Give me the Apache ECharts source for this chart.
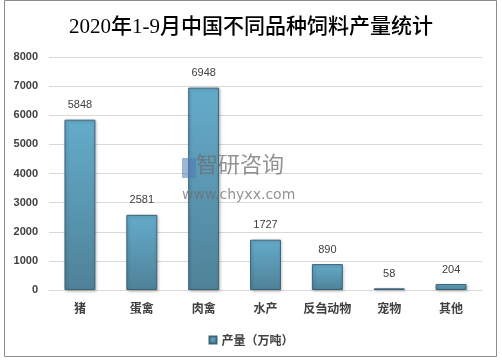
<!DOCTYPE html>
<html><head><meta charset="utf-8">
<script src="https://cdn.jsdelivr.net/npm/echarts@6/dist/echarts.min.js"></script>
<style>html,body{margin:0;padding:0;background:#fff}#c{width:502px;height:361px}</style>
</head><body><div id="c"></div>
<script>
const categories = ['猪','蛋禽','肉禽','水产','反刍动物','宠物','其他'];
const values = [5848, 2581, 6948, 1727, 890, 58, 204];
const seriesName = '产量（万吨）';
const titleText = '2020年1-9月中国不同品种饲料产量统计';

const chart = echarts.init(document.getElementById('c'), null, {renderer:'canvas'});
chart.setOption({
  animation: false,
  backgroundColor: '#fff',
  title: {
    text: titleText, left: 'center', top: 12,
    textStyle: {fontFamily: '"Liberation Serif","Noto Sans CJK SC",serif', fontSize: 21, fontWeight: 500, color: '#000'}
  },
  graphic: [
    {type:'rect', shape:{x:4.5,y:0.5,width:492,height:356}, style:{fill:'none', stroke:'#8c8c8c', lineWidth:1}, z:-1},
    {type:'text', left:196, top:153, style:{text:'智研咨询', fill:'rgba(110,110,110,0.75)', font:'22px "Noto Sans CJK SC"'}, z:100},
    {type:'text', left:182, top:188, style:{text:'www.chyxx.com', fill:'rgba(110,110,110,0.75)', font:'14px "DejaVu Sans"'}, z:100},
    {type:'rect', shape:{x:182,y:158,width:14,height:20}, style:{fill:'rgba(80,120,180,0.55)'}, z:100}
  ],
  legend: {
    bottom: 10, left: 'center', itemWidth: 7, itemHeight: 7, itemGap: 4,
    icon: 'rect',
    textStyle: {fontSize: 12, fontWeight:'bold', color:'#404040', fontFamily:'"Noto Sans CJK SC"'},
    data: [seriesName]
  },
  grid: {left: 49, right: 20, top: 57, bottom: 71},
  xAxis: {
    type: 'category', data: categories,
    axisLine: {lineStyle:{color:'#d9d9d9'}}, axisTick:{show:false},
    axisLabel: {interval: 0, color:'#404040', fontSize: 12, fontWeight:'bold', margin: 12, fontFamily:'"Noto Sans CJK SC"'}
  },
  yAxis: {
    type: 'value', min: 0, max: 8000, interval: 1000,
    axisLine:{show:false}, axisTick:{show:false},
    splitLine:{lineStyle:{color:'#d9d9d9'}},
    axisLabel:{formatter: v => String(v), color:'#404040', fontSize: 11, fontWeight:'bold', margin: 11, fontFamily:'"Liberation Sans",Arial'}
  },
  series: [{
    name: seriesName, type: 'bar', data: values, barWidth: '50%',
    itemStyle: {
      color: new echarts.graphic.LinearGradient(0,0,0,1,[{offset:0,color:'#64abcb'},{offset:1,color:'#4f8298'}]),
      borderColor: '#3c6478', borderWidth: 1,
      shadowColor: 'rgba(0,0,0,0.25)', shadowBlur: 3, shadowOffsetX: 1, shadowOffsetY: 1
    },
    label: {show:true, position:'top', distance: 9, color:'#404040', fontSize: 11, fontFamily:'"Liberation Sans",Arial'}
  }]
});
</script></body></html>
